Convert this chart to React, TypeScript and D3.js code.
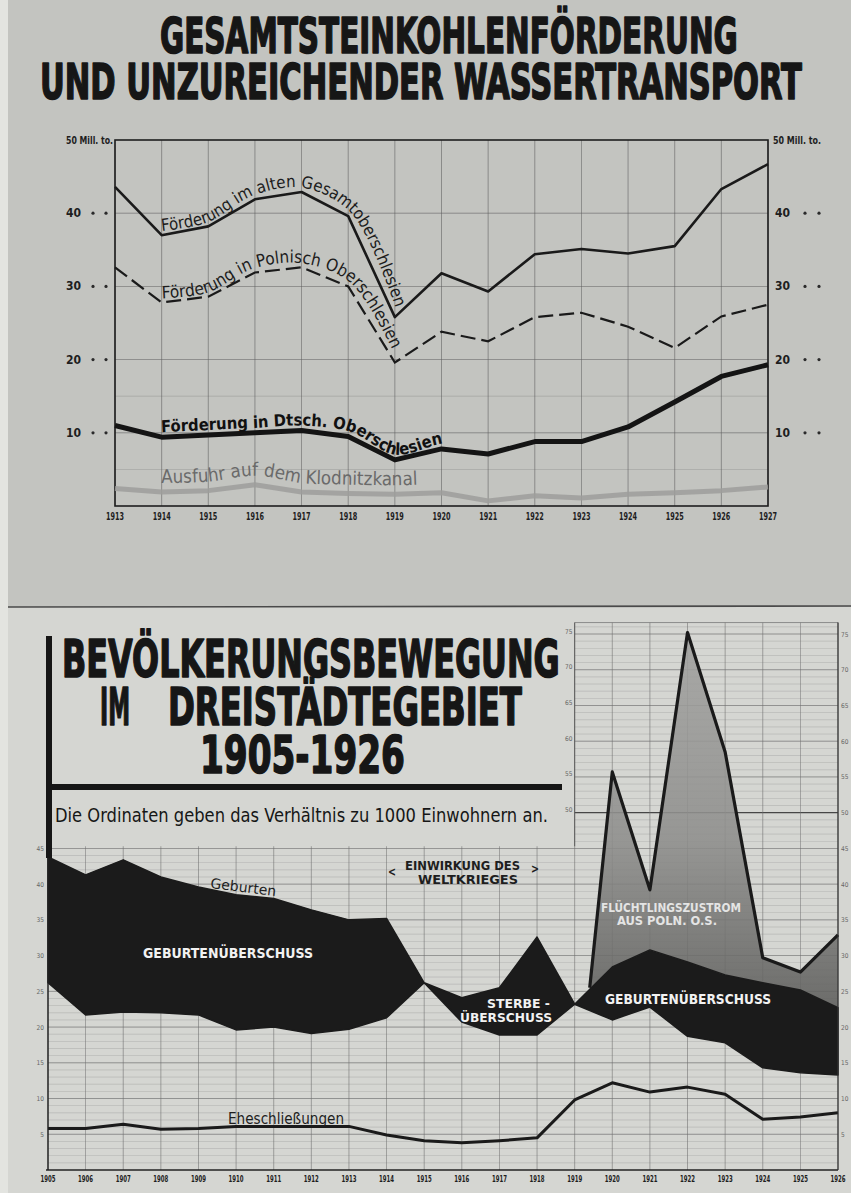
import React, { useRef, useEffect } from "react";
import * as d3 from "d3";

const W = 851;
const H = 1193;

// Steinkohlenförderung, Mill. t
const coalYears = [1913, 1914, 1915, 1916, 1917, 1918, 1919, 1920, 1921, 1922, 1923, 1924, 1925, 1926, 1927];
const gesamtOS = [43.6, 37.0, 38.2, 41.9, 42.9, 39.6, 25.8, 31.8, 29.3, 34.4, 35.1, 34.5, 35.5, 43.3, 46.7];
const polnischOS = [32.6, 27.8, 28.6, 31.9, 32.6, 30.0, 19.6, 23.8, 22.5, 25.8, 26.4, 24.5, 21.6, 25.9, 27.5];
const deutschOS = [11.0, 9.4, 9.7, 10.0, 10.3, 9.5, 6.3, 7.8, 7.1, 8.8, 8.8, 10.8, 14.2, 17.7, 19.3];
const klodnitzKanal = [2.4, 1.9, 2.1, 2.9, 1.9, 1.7, 1.6, 1.8, 0.7, 1.4, 1.1, 1.6, 1.8, 2.1, 2.6];
const coalTicks = [10, 20, 30, 40];
const coalGrid = [5, 10, 15, 20, 30, 40];

// Bevölkerungsbewegung, auf 1000 Einwohner
const popYears = [1905, 1906, 1907, 1908, 1909, 1910, 1911, 1912, 1913, 1914, 1915,
  1916, 1917, 1918, 1919, 1920, 1921, 1922, 1923, 1924, 1925, 1926];
const geburten = [43.8, 41.3, 43.4, 41.0, 39.6, 38.5, 38.0, 36.4, 35.0, 35.2, 26.2,
  20.7, 18.9, 18.9, 23.2, 28.4, 30.8, 29.1, 27.3, 26.2, 25.2, 22.7];
const sterbefaelle = [26.2, 21.7, 22.1, 22.0, 21.7, 19.6, 20.0, 19.1, 19.7, 21.3, 26.2,
  24.1, 25.5, 32.6, 23.2, 21.0, 22.8, 18.7, 17.8, 14.3, 13.6, 13.3];
const eheschliessungen = [5.8, 5.8, 6.4, 5.7, 5.8, 6.1, 6.1, 6.1, 6.1, 4.9, 4.1,
  3.8, 4.1, 4.5, 9.8, 12.2, 10.9, 11.6, 10.6, 7.1, 7.4, 8.0];
const zustromYears = [1919.4, 1920, 1921, 1922, 1923, 1924, 1925, 1926];
const zustromTop = [25.5, 55.7, 39.2, 75.2, 58.5, 29.7, 27.7, 32.9];
const popTicksLeft = [5, 10, 15, 20, 25, 30, 35, 40, 45];
const popTicksRight = [5, 10, 15, 20, 25, 30, 35, 40, 45, 50, 55, 60, 65, 70, 75];
const popTicksInner = [50, 55, 60, 65, 70, 75];

const HEAVY = '"DejaVu Sans Condensed", "DejaVu Sans", sans-serif';
const HAND = '"Liberation Sans Narrow", "DejaVu Sans Condensed", sans-serif';

// points of a series between two years, pushed off the line along its normal
function offsetPoints(years: number[], vals: number[], from: number, to: number,
  sx: any, sy: any, off: number) {
  const f = d3.scaleLinear().domain(years).range(vals);
  const pts: [number, number][] = [[sx(from), sy(f(from))]];
  years.forEach((yr, i) => { if (yr > from && yr < to) pts.push([sx(yr), sy(vals[i])]); });
  pts.push([sx(to), sy(f(to))]);
  const segN: [number, number][] = [];
  for (let i = 0; i < pts.length - 1; i++) {
    const dx = pts[i + 1][0] - pts[i][0], dy = pts[i + 1][1] - pts[i][1];
    const L = Math.hypot(dx, dy);
    segN.push([dy / L, -dx / L]);
  }
  return pts.map((p, i) => {
    const a = segN[Math.max(0, i - 1)], b = segN[Math.min(segN.length - 1, i)];
    let nx = a[0] + b[0], ny = a[1] + b[1];
    const L = Math.hypot(nx, ny);
    nx /= L; ny /= L;
    const k = off / Math.max(nx * b[0] + ny * b[1], 0.5);
    return [p[0] + nx * k, p[1] + ny * k] as [number, number];
  });
}

export default function App() {
  const ref = useRef<SVGSVGElement>(null);

  useEffect(() => {
    const svg = d3.select(ref.current);
    svg.selectAll("*").remove();
    const defs = svg.append("defs");

    // paper
    svg.append("rect").attr("width", W).attr("height", H).attr("fill", "#c3c4c0");
    svg.append("rect").attr("y", 607).attr("width", W).attr("height", H - 607).attr("fill", "#d5d6d2");
    svg.append("rect").attr("width", 8).attr("height", H).attr("fill", "#e3e4e0");
    svg.append("line").attr("x1", 8).attr("x2", W).attr("y1", 607).attr("y2", 606)
      .attr("stroke", "#4a4a4a").attr("stroke-width", 1.6);

    // lettering squeezed horizontally to the width it has on the sheet
    const fitText = (txt: string, x: number, y: number, len: number, size: number,
      family: string, weight: number, stroke: number) => {
      const t = svg.append("text")
        .attr("font-family", family).attr("font-weight", weight).attr("font-size", size)
        .attr("fill", "#161616").attr("stroke", stroke ? "#161616" : "none").attr("stroke-width", stroke)
        .attr("stroke-linejoin", "round").text(txt);
      const nat = (t.node() as SVGTextElement).getComputedTextLength();
      t.attr("transform", `translate(${x},${y}) scale(${len / nat},1)`);
      return t;
    };
    const heading = (txt: string, x: number, y: number, len: number, size: number) =>
      fitText(txt, x, y, len, size, HEAVY, 700, 1.6);

    // ---------------- top chart ----------------
    heading("GESAMTSTEINKOHLENFÖRDERUNG", 160, 53, 578, 49);
    heading("UND UNZUREICHENDER WASSERTRANSPORT", 40, 99, 762, 49);

    const x1 = d3.scaleLinear().domain([1913, 1927]).range([115, 768]);
    const y1 = d3.scaleLinear().domain([0, 50]).range([506, 140]);
    const top = svg.append("g");

    top.selectAll(".vg").data(coalYears).join("line")
      .attr("x1", d => x1(d)).attr("x2", d => x1(d))
      .attr("y1", y1(0)).attr("y2", y1(50))
      .attr("stroke", "#5e5e5e").attr("stroke-width", 0.8).attr("opacity", 0.7);
    top.selectAll(".hg").data(coalGrid).join("line")
      .attr("x1", x1(1913)).attr("x2", x1(1927))
      .attr("y1", d => y1(d)).attr("y2", d => y1(d))
      .attr("stroke", "#5e5e5e").attr("stroke-width", d => (d % 10 ? 0.5 : 0.8))
      .attr("opacity", d => (d % 10 ? 0.45 : 0.7));
    top.append("rect").attr("x", x1(1913)).attr("y", y1(50))
      .attr("width", x1(1927) - x1(1913)).attr("height", y1(0) - y1(50))
      .attr("fill", "none").attr("stroke", "#1e1e1e").attr("stroke-width", 1.6);

    // y labels both sides
    const tickFont = (sel: any, size: number) =>
      sel.attr("font-family", HEAVY).attr("font-weight", 700).attr("font-size", size).attr("fill", "#1e1e1e");
    coalTicks.forEach(t => {
      tickFont(top.append("text").attr("x", 66).attr("y", y1(t) + 4).text(String(t)), 12);
      tickFont(top.append("text").attr("x", 775).attr("y", y1(t) + 4).text(String(t)), 12);
      [93, 106, 805, 819].forEach(cx =>
        top.append("circle").attr("cx", cx).attr("cy", y1(t)).attr("r", 1.6).attr("fill", "#2a2a2a"));
    });
    tickFont(top.append("text").attr("x", 66).attr("y", y1(50) + 4)
      .attr("textLength", 47).attr("lengthAdjust", "spacingAndGlyphs").text("50 Mill. to."), 10);
    tickFont(top.append("text").attr("x", 773).attr("y", y1(50) + 4)
      .attr("textLength", 48).attr("lengthAdjust", "spacingAndGlyphs").text("50 Mill. to."), 10);
    coalYears.forEach(yr => {
      tickFont(top.append("text").attr("x", x1(yr)).attr("y", 520).attr("text-anchor", "middle")
        .attr("textLength", 18).attr("lengthAdjust", "spacingAndGlyphs").text(String(yr)), 10);
    });

    const line1 = d3.line<number>().x((_, i) => x1(coalYears[i])).y(d => y1(d));
    top.append("path").attr("d", line1(klodnitzKanal)).attr("fill", "none")
      .attr("stroke", "#9d9d9b").attr("stroke-width", 5).attr("opacity", 0.85)
      .attr("stroke-linejoin", "round");
    top.append("path").attr("d", line1(gesamtOS)).attr("fill", "none")
      .attr("stroke", "#1a1a1a").attr("stroke-width", 2.6).attr("stroke-linejoin", "round");
    top.append("path").attr("d", line1(polnischOS)).attr("fill", "none")
      .attr("stroke", "#1a1a1a").attr("stroke-width", 2.2).attr("stroke-dasharray", "15,6");
    top.append("path").attr("d", line1(deutschOS)).attr("fill", "none")
      .attr("stroke", "#141414").attr("stroke-width", 5).attr("stroke-linejoin", "round");

    const curveLabels = [
      { id: "lbGes", vals: gesamtOS, txt: "Förderung im alten Gesamtoberschlesien", from: 1914.02, to: 1918.98, off: 4, fill: "#1c1c1c", weight: 400 },
      { id: "lbPol", vals: polnischOS, txt: "Förderung in Polnisch Oberschlesien", from: 1914.02, to: 1918.92, off: 4, fill: "#1c1c1c", weight: 400 },
      { id: "lbDt", vals: deutschOS, txt: "Förderung in Dtsch. Oberschlesien", from: 1914.0, to: 1920.15, off: 5, fill: "#111", weight: 700 },
      { id: "lbKl", vals: klodnitzKanal, txt: "Ausfuhr auf dem Klodnitzkanal", from: 1914.0, to: 1919.6, off: 9, fill: "#6a6a6a", weight: 400 },
    ];
    curveLabels.forEach(lb => {
      const pts = offsetPoints(coalYears, lb.vals, lb.from, lb.to, x1, y1, lb.off);
      const p = defs.append("path").attr("id", lb.id)
        .attr("d", d3.line().curve(d3.curveCatmullRom.alpha(0.5))(pts));
      const len = (p.node() as SVGPathElement).getTotalLength();
      const t = top.append("text").attr("font-family", HAND).attr("font-size", 16)
        .attr("font-weight", lb.weight).attr("fill", lb.fill);
      t.append("textPath").attr("href", "#" + lb.id).text(lb.txt);
      const natural = (t.node() as SVGTextElement).getComputedTextLength();
      const fs = Math.max(12, Math.min(20, 16 * (len * 0.98) / natural));
      t.attr("font-size", fs);
    });

    // ---------------- bottom chart ----------------
    const x2 = d3.scaleLinear().domain([1905, 1926]).range([48, 838]);
    const y2 = d3.scaleLinear().domain([0, 75]).range([1170, 634]);
    const bot = svg.append("g");
    const leftTop = 45.3, rightTop = 76.6;

    d3.range(1, 78).forEach(v => {
      if (v > rightTop) return;
      const major = v % 5 === 0;
      bot.append("line")
        .attr("x1", v <= leftTop ? x2(1905) : x2(1919)).attr("x2", x2(1926))
        .attr("y1", y2(v)).attr("y2", y2(v))
        .attr("stroke", v === 50 ? "#2e2e2e" : major ? "#6f6f6f" : "#8f8f8f")
        .attr("stroke-width", v === 50 ? 1.3 : major ? 0.8 : 0.5)
        .attr("opacity", major ? 0.85 : 0.6);
    });
    popYears.forEach(yr => {
      bot.append("line").attr("x1", x2(yr)).attr("x2", x2(yr))
        .attr("y1", y2(0)).attr("y2", y2(yr >= 1919 ? rightTop : leftTop))
        .attr("stroke", "#6f6f6f").attr("stroke-width", 0.7).attr("opacity", 0.8);
    });
    bot.append("line").attr("x1", x2(1919)).attr("x2", x2(1926))
      .attr("y1", y2(rightTop)).attr("y2", y2(rightTop)).attr("stroke", "#777").attr("stroke-width", 0.8);

    // Flüchtlingszustrom
    const grad = defs.append("linearGradient").attr("id", "zustromFill")
      .attr("x1", 0).attr("x2", 0).attr("y1", 0).attr("y2", 1);
    grad.append("stop").attr("offset", "0%").attr("stop-color", "#a2a2a0");
    grad.append("stop").attr("offset", "55%").attr("stop-color", "#8e8e8c");
    grad.append("stop").attr("offset", "100%").attr("stop-color", "#5e5e5c");
    const birthAt = d3.scaleLinear().domain(popYears).range(geburten);
    const zArea = d3.area<number>()
      .x((_, i) => x2(zustromYears[i]))
      .y0((_, i) => y2(birthAt(zustromYears[i])))
      .y1(d => y2(d));
    bot.append("path").attr("d", zArea(zustromTop)).attr("fill", "url(#zustromFill)").attr("opacity", 0.88);
    bot.append("path")
      .attr("d", d3.line<number>().x((_, i) => x2(zustromYears[i])).y(d => y2(d))(zustromTop))
      .attr("fill", "none").attr("stroke", "#1a1a1a").attr("stroke-width", 3.2).attr("stroke-linejoin", "round");

    // Geburten-/Sterbeüberschuss
    const dArea = d3.area<number>()
      .x((_, i) => x2(popYears[i]))
      .y0((_, i) => y2(sterbefaelle[i]))
      .y1(d => y2(d));
    bot.append("path").attr("d", dArea(geburten)).attr("fill", "#1b1b1b")
      .attr("stroke", "#1b1b1b").attr("stroke-width", 1.5).attr("stroke-linejoin", "round");

    // Eheschließungen
    bot.append("path")
      .attr("d", d3.line<number>().x((_, i) => x2(popYears[i])).y(d => y2(d))(eheschliessungen))
      .attr("fill", "none").attr("stroke", "#1a1a1a").attr("stroke-width", 3).attr("stroke-linejoin", "round");

    // axes
    bot.append("line").attr("x1", x2(1905) - 2).attr("x2", x2(1926)).attr("y1", y2(0)).attr("y2", y2(0))
      .attr("stroke", "#222").attr("stroke-width", 1.6);
    bot.append("line").attr("x1", x2(1905)).attr("x2", x2(1905)).attr("y1", y2(0)).attr("y2", y2(leftTop))
      .attr("stroke", "#222").attr("stroke-width", 1.4);
    bot.append("line").attr("x1", x2(1926)).attr("x2", x2(1926)).attr("y1", y2(0)).attr("y2", y2(rightTop))
      .attr("stroke", "#333").attr("stroke-width", 1.2);
    bot.append("line").attr("x1", x2(1919)).attr("x2", x2(1919)).attr("y1", y2(leftTop)).attr("y2", y2(rightTop))
      .attr("stroke", "#555").attr("stroke-width", 0.9);

    popYears.forEach(yr => {
      tickFont(bot.append("text").attr("x", x2(yr)).attr("y", 1182).attr("text-anchor", "middle")
        .attr("textLength", 15).attr("lengthAdjust", "spacingAndGlyphs").text(String(yr)), 8);
    });
    const small = (x: number, y: number, t: number, anchor: string) =>
      bot.append("text").attr("x", x).attr("y", y + 2.5).attr("text-anchor", anchor)
        .attr("font-family", HEAVY).attr("font-size", 6.5).attr("fill", "#666").text(String(t));
    popTicksLeft.forEach(t => small(44, y2(t), t, "end"));
    popTicksRight.forEach(t => small(841, y2(t), t, "start"));
    popTicksInner.forEach(t => small(572.5, y2(t) - 3, t, "end"));

    // title block
    heading("BEVÖLKERUNGSBEWEGUNG", 62, 677, 498, 52);
    heading("IM", 100, 725, 30, 52);
    heading("DREISTÄDTEGEBIET", 168, 725, 354, 52);
    heading("1905-1926", 200, 773, 205, 52);
    bot.append("rect").attr("x", 46).attr("y", 636).attr("width", 6).attr("height", 222).attr("fill", "#161616");
    bot.append("rect").attr("x", 46).attr("y", 784).attr("width", 516).attr("height", 6).attr("fill", "#161616");
    fitText("Die Ordinaten geben das Verhältnis zu 1000 Einwohnern an.", 55, 822, 493, 19, HAND, 400, 0);

    // annotations
    const note = (txt: string, x: number, y: number, len: number, size: number, fill: string) =>
      bot.append("text").attr("x", x).attr("y", y).attr("font-family", HEAVY).attr("font-weight", 700)
        .attr("font-size", size).attr("textLength", len).attr("lengthAdjust", "spacingAndGlyphs")
        .attr("fill", fill).text(txt);
    note("<", 388, 876, 8, 12, "#1e1e1e");
    note("EINWIRKUNG DES", 405, 870, 115, 12, "#1e1e1e");
    note(">", 531, 873, 8, 12, "#1e1e1e");
    note("WELTKRIEGES", 418, 884, 100, 12, "#1e1e1e");
    note("GEBURTENÜBERSCHUSS", 143, 958, 170, 14, "#f2f2f2");
    note("STERBE -", 487, 1008, 63, 13, "#f2f2f2");
    note("ÜBERSCHUSS", 460, 1022, 92, 13, "#f2f2f2");
    note("GEBURTENÜBERSCHUSS", 605, 1004, 166, 14, "#f2f2f2");
    note("FLÜCHTLINGSZUSTROM", 601, 912, 140, 12.5, "#e4e4e4");
    note("AUS POLN. O.S.", 617, 925, 100, 12.5, "#e4e4e4");
    bot.append("text").attr("transform", "translate(210,888) rotate(7)")
      .attr("font-family", HAND).attr("font-size", 14).attr("textLength", 66)
      .attr("lengthAdjust", "spacingAndGlyphs").attr("fill", "#1e1e1e").text("Geburten");
    bot.append("text").attr("x", 228).attr("y", 1124)
      .attr("font-family", HAND).attr("font-size", 15).attr("textLength", 116)
      .attr("lengthAdjust", "spacingAndGlyphs").attr("fill", "#1e1e1e").text("Eheschließungen");
  }, []);

  return <svg ref={ref} width={W} height={H} style={{ position: "absolute", left: 0, top: 0, display: "block" }} />;
}
